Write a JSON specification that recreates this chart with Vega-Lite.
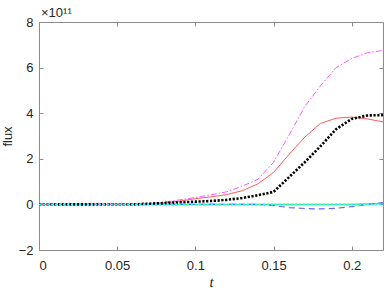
{
  "$schema": "https://vega.github.io/schema/vega-lite/v6.json",
  "width": 344,
  "height": 228,
  "autosize": "none",
  "padding": {"left": 39, "top": 22, "right": 3, "bottom": 42},
  "background": "white",
  "config": {
    "view": {"stroke": null},
    "axis": {
      "grid": false,
      "ticks": false,
      "domainColor": "#8c8c8c",
      "gridColor": "#8c8c8c",
      "gridOpacity": 1,
      "labelFont": "Liberation Sans",
      "labelFontSize": 13,
      "labelColor": "#262626",
      "titleColor": "#262626"
    },
    "title": {"font": "Liberation Sans", "fontSize": 13, "fontWeight": "normal", "color": "#262626"}
  },
  "title": {"text": "×10¹¹", "anchor": "start", "frame": "group", "offset": -4, "dx": 2},
  "data": {
    "values": [
      {"t": 0, "flux": 0, "s": "red"}, {"t": 0.07, "flux": 0, "s": "red"}, {"t": 0.08, "flux": 0.05, "s": "red"}, {"t": 0.09, "flux": 0.15, "s": "red"}, {"t": 0.1, "flux": 0.25, "s": "red"}, {"t": 0.11, "flux": 0.33, "s": "red"}, {"t": 0.12, "flux": 0.43, "s": "red"}, {"t": 0.13, "flux": 0.6, "s": "red"}, {"t": 0.14, "flux": 0.9, "s": "red"}, {"t": 0.15, "flux": 1.4, "s": "red"}, {"t": 0.16, "flux": 2.2, "s": "red"}, {"t": 0.17, "flux": 2.95, "s": "red"}, {"t": 0.18, "flux": 3.55, "s": "red"}, {"t": 0.19, "flux": 3.78, "s": "red"}, {"t": 0.2, "flux": 3.83, "s": "red"}, {"t": 0.21, "flux": 3.75, "s": "red"}, {"t": 0.22, "flux": 3.62, "s": "red"},
      {"t": 0, "flux": 0, "s": "magenta"}, {"t": 0.06, "flux": 0, "s": "magenta"}, {"t": 0.07, "flux": 0.02, "s": "magenta"}, {"t": 0.08, "flux": 0.1, "s": "magenta"}, {"t": 0.09, "flux": 0.2, "s": "magenta"}, {"t": 0.1, "flux": 0.3, "s": "magenta"}, {"t": 0.11, "flux": 0.42, "s": "magenta"}, {"t": 0.12, "flux": 0.55, "s": "magenta"}, {"t": 0.13, "flux": 0.8, "s": "magenta"}, {"t": 0.14, "flux": 1.1, "s": "magenta"}, {"t": 0.15, "flux": 1.85, "s": "magenta"}, {"t": 0.16, "flux": 3.05, "s": "magenta"}, {"t": 0.17, "flux": 4.3, "s": "magenta"}, {"t": 0.18, "flux": 5.2, "s": "magenta"}, {"t": 0.19, "flux": 6.0, "s": "magenta"}, {"t": 0.2, "flux": 6.4, "s": "magenta"}, {"t": 0.21, "flux": 6.65, "s": "magenta"}, {"t": 0.22, "flux": 6.75, "s": "magenta"},
      {"t": 0, "flux": 0, "s": "blue"}, {"t": 0.14, "flux": 0, "s": "blue"}, {"t": 0.15, "flux": -0.05, "s": "blue"}, {"t": 0.16, "flux": -0.14, "s": "blue"}, {"t": 0.17, "flux": -0.18, "s": "blue"}, {"t": 0.18, "flux": -0.2, "s": "blue"}, {"t": 0.19, "flux": -0.17, "s": "blue"}, {"t": 0.2, "flux": -0.1, "s": "blue"}, {"t": 0.21, "flux": 0.0, "s": "blue"}, {"t": 0.22, "flux": 0.08, "s": "blue"},
      {"t": 0, "flux": 0, "s": "green"}, {"t": 0.2, "flux": 0, "s": "green"}, {"t": 0.22, "flux": 0.04, "s": "green"},
      {"t": 0, "flux": 0, "s": "black"}, {"t": 0.06, "flux": 0, "s": "black"}, {"t": 0.07, "flux": 0.03, "s": "black"}, {"t": 0.08, "flux": 0.06, "s": "black"}, {"t": 0.09, "flux": 0.09, "s": "black"}, {"t": 0.1, "flux": 0.12, "s": "black"}, {"t": 0.11, "flux": 0.15, "s": "black"}, {"t": 0.12, "flux": 0.2, "s": "black"}, {"t": 0.13, "flux": 0.28, "s": "black"}, {"t": 0.14, "flux": 0.4, "s": "black"}, {"t": 0.15, "flux": 0.55, "s": "black"}, {"t": 0.16, "flux": 1.2, "s": "black"}, {"t": 0.17, "flux": 1.85, "s": "black"}, {"t": 0.18, "flux": 2.55, "s": "black"}, {"t": 0.19, "flux": 3.3, "s": "black"}, {"t": 0.2, "flux": 3.75, "s": "black"}, {"t": 0.21, "flux": 3.9, "s": "black"}, {"t": 0.22, "flux": 3.92, "s": "black"},
      {"t": 0, "flux": 0, "s": "cyan"}, {"t": 0.22, "flux": 0, "s": "cyan"}
    ]
  },
  "layer": [
    {
      "mark": {"type": "line", "opacity": 0},
      "encoding": {
        "x": {"field": "t", "type": "quantitative", "scale": {"domain": [0, 0.22], "nice": false},
              "axis": {"values": [0, 0.05, 0.1, 0.15, 0.2], "grid": true, "gridDash": [4, 220], "labelExpr": "datum.value == 0 ? '0' : format(datum.value, '.2~f')", "title": "t", "titleFont": "Liberation Serif", "titleFontStyle": "italic", "titleFontWeight": "normal", "titleFontSize": 15, "titlePadding": 2, "labelPadding": 9}},
        "y": {"field": "flux", "type": "quantitative", "scale": {"domain": [-2, 8], "nice": false},
              "axis": {"values": [-2, 0, 2, 4, 6, 8], "grid": true, "gridDash": [4, 336], "title": "flux", "titleFont": "Liberation Sans", "titleFontWeight": "normal", "titleFontSize": 13, "titlePadding": 4, "labelPadding": 6}}
      }
    },
    {
      "mark": {"type": "line", "opacity": 0},
      "encoding": {
        "x": {"field": "t", "type": "quantitative", "axis": {"orient": "top", "labels": false, "title": null}},
        "y": {"field": "flux", "type": "quantitative", "axis": {"orient": "right", "labels": false, "title": null}}
      }
    },
    {
      "transform": [{"filter": "datum.s == 'green'"}],
      "mark": {"type": "line", "clip": true, "color": "#55dd55", "strokeWidth": 1.5},
      "encoding": {"x": {"field": "t", "type": "quantitative", "axis": null}, "y": {"field": "flux", "type": "quantitative", "axis": null}}
    },
    {
      "transform": [{"filter": "datum.s == 'blue'"}],
      "mark": {"type": "line", "clip": true, "color": "#6464ff", "strokeWidth": 1.2, "strokeDash": [6, 4]},
      "encoding": {"x": {"field": "t", "type": "quantitative", "axis": null}, "y": {"field": "flux", "type": "quantitative", "axis": null}}
    },
    {
      "transform": [{"filter": "datum.s == 'red'"}],
      "mark": {"type": "line", "clip": true, "color": "#ff5c5c", "strokeWidth": 1},
      "encoding": {"x": {"field": "t", "type": "quantitative", "axis": null}, "y": {"field": "flux", "type": "quantitative", "axis": null}}
    },
    {
      "transform": [{"filter": "datum.s == 'magenta'"}],
      "mark": {"type": "line", "clip": true, "color": "#ff55ff", "strokeWidth": 1, "strokeDash": [6, 2, 1.5, 2]},
      "encoding": {"x": {"field": "t", "type": "quantitative", "axis": null}, "y": {"field": "flux", "type": "quantitative", "axis": null}}
    },
    {
      "transform": [{"filter": "datum.s == 'black'"}],
      "mark": {"type": "line", "clip": true, "color": "#000000", "strokeWidth": 2.6, "strokeDash": [2.2, 1.6]},
      "encoding": {"x": {"field": "t", "type": "quantitative", "axis": null}, "y": {"field": "flux", "type": "quantitative", "axis": null}}
    },
    {
      "transform": [{"filter": "datum.s == 'cyan'"}],
      "mark": {"type": "line", "clip": true, "color": "#22ffff", "strokeWidth": 2, "strokeDash": [2, 2]},
      "encoding": {"x": {"field": "t", "type": "quantitative", "axis": null}, "y": {"field": "flux", "type": "quantitative", "axis": null}}
    }
  ],
  "resolve": {"axis": {"x": "independent", "y": "independent"}}
}
